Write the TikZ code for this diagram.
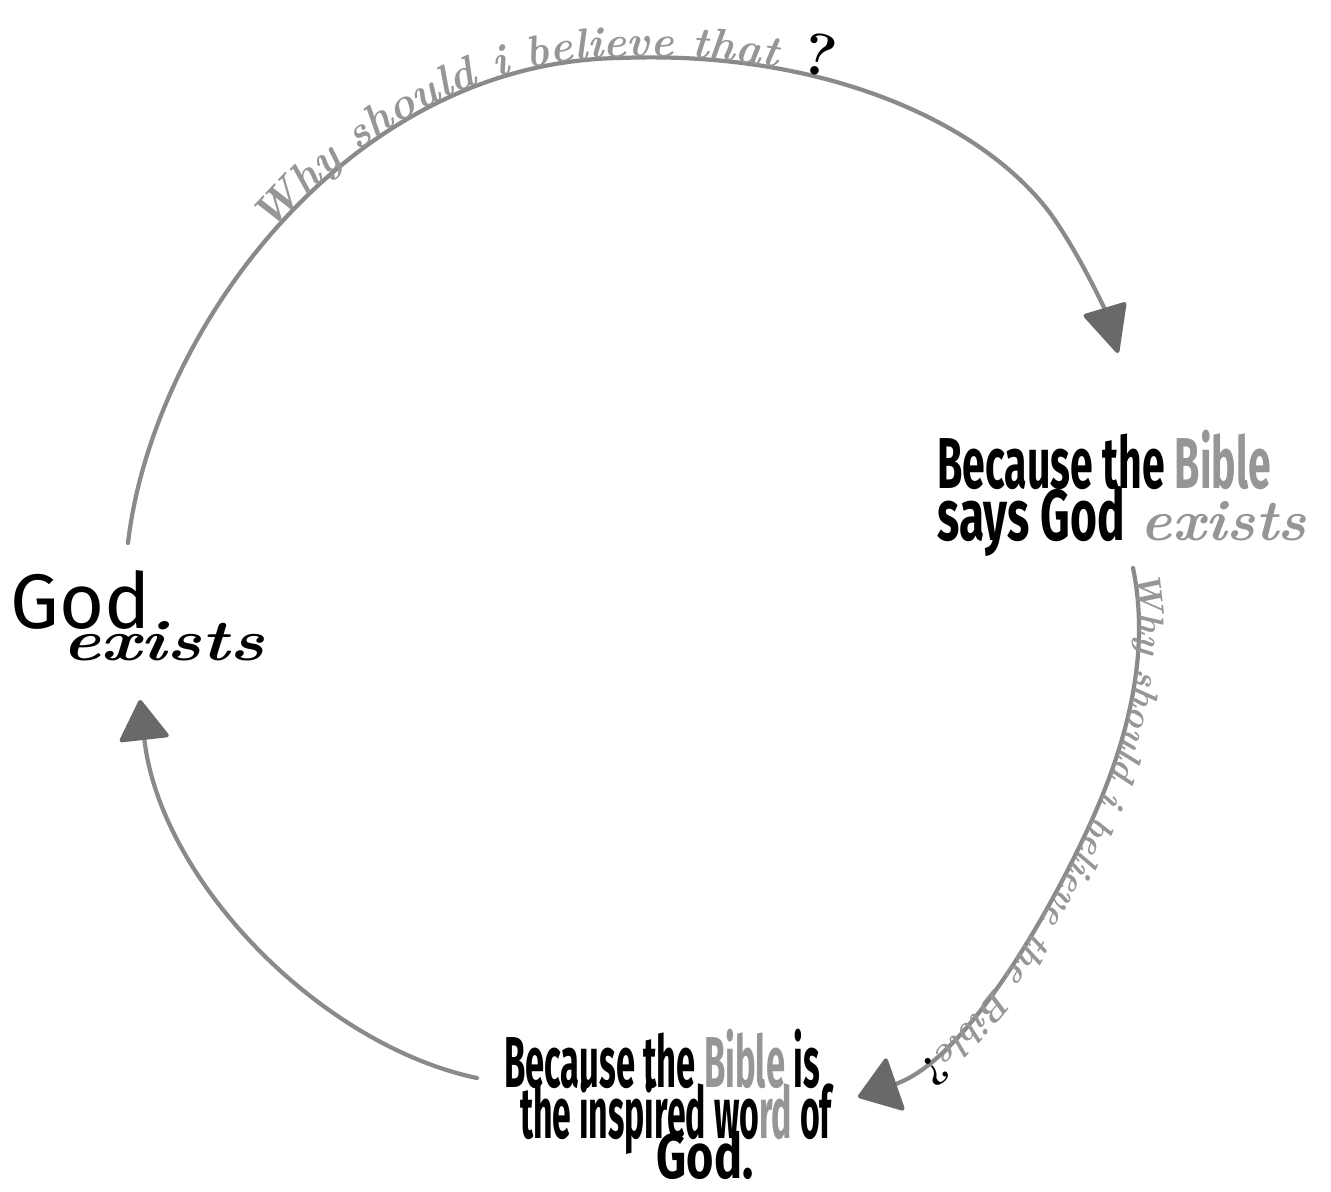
\documentclass[tikz,border=0pt]{standalone}
\usepackage{fontspec}
\usepackage{graphicx}
\usetikzlibrary{arrows.meta,decorations.text}
\newfontfamily\hand{Fira Sans}
\definecolor{linegray}{RGB}{138,138,138}
\definecolor{tipgray}{RGB}{105,105,105}
\definecolor{inkgray}{RGB}{150,150,150}
\newcommand{\hsq}[2]{\scalebox{#1}[1]{#2}}
\begin{document}
\begin{tikzpicture}[x=0.02cm,y=-0.02cm,
  arc/.style={draw=linegray, line width=2.4pt, line cap=round},
  lbl/.style={inner sep=0pt, text=black},
  curvetext/.style={decorate, decoration={text along path, raise=0.5pt, #1}}]
\useasboundingbox (0,0) rectangle (1331,1192);
\fill[white] (0,0) rectangle (1331,1192);

% ---- labels ----
\node[lbl, anchor=base west] (god) at (10,628) {\hand\fontsize{44}{48}\selectfont God};
\node[lbl, anchor=base west] (godex) at (62,660) {\hsq{1.24}{\rmfamily\bfseries\itshape\fontsize{33}{36}\selectfont exists}};

\node[lbl, anchor=base west] (say1) at (937,488) {\hand\bfseries\fontsize{41}{44}\selectfont\hsq{0.57}{Because the \textcolor{inkgray}{Bible}}};
\node[lbl, anchor=base west] (say2) at (937,540) {\hand\bfseries\fontsize{41}{44}\selectfont\hsq{0.64}{says God}\hspace{9pt}\hsq{1.02}{\rmfamily\bfseries\itshape\fontsize{33}{36}\selectfont\color{inkgray}exists}};

\node[lbl, anchor=base] (insp1) at (662,1087) {\hand\bfseries\fontsize{41}{44}\selectfont\hsq{0.48}{Because the \textcolor{inkgray}{Bible} is}};
\node[lbl, anchor=base] (insp2) at (676,1138) {\hand\bfseries\fontsize{41}{44}\selectfont\hsq{0.47}{the inspired wo\textcolor{inkgray}{rd} of}};
\node[lbl, anchor=base] (insp3) at (705,1178) {\hand\bfseries\fontsize{36}{38}\selectfont\hsq{0.74}{God.}};

% ---- connector ends ----
\coordinate (a0) at (128,543);
\coordinate (a1) at (1118,353);
\coordinate (b0) at (1133,568);
\coordinate (b1) at (858,1097);
\coordinate (c0) at (477,1078);
\coordinate (c1) at (140,700);

% ---- connectors ----
\draw[arc, -{Triangle[length=1cm,width=0.92cm,color=tipgray,round]}]
  (a0) .. controls (152,335) and (345,62) .. (620,58)
       .. controls (820,50) and (980,120) .. (1050,213)
       .. controls (1080,255) and (1105,310) .. (a1);
\draw[arc, -{Triangle[length=0.84cm,width=1.16cm,color=tipgray,round]}]
  (b0) .. controls (1150,650) and (1130,740) .. (1085,835)
       .. controls (1045,920) and (965,1060) .. (b1);
\draw[arc, -{Triangle[length=0.84cm,width=1.04cm,color=tipgray,round]}]
  (c0) .. controls (320,1045) and (160,880) .. (c1);

% ---- text along the connectors ----
\path[curvetext={text align={left indent=6.9cm},
  text={|\rmfamily\bfseries\itshape\fontsize{25}{27}\selectfont\color{inkgray}|Why should i believe that|\rmfamily\bfseries\fontsize{34}{36}\selectfont\color{black}| ?}}]
  (a0) .. controls (152,335) and (345,62) .. (620,58)
       .. controls (820,50) and (980,120) .. (1050,213)
       .. controls (1080,255) and (1105,310) .. (a1);
\path[curvetext={text align={left indent=0.1cm},
  text={|\rmfamily\bfseries\itshape\fontsize{20}{22}\selectfont\color{inkgray}|Why should i believe the Bible|\rmfamily\bfseries\fontsize{24}{26}\selectfont\color{black}|?}}]
  (b0) .. controls (1150,650) and (1130,740) .. (1085,835)
       .. controls (1045,920) and (965,1060) .. (b1);
\end{tikzpicture}
\end{document}
